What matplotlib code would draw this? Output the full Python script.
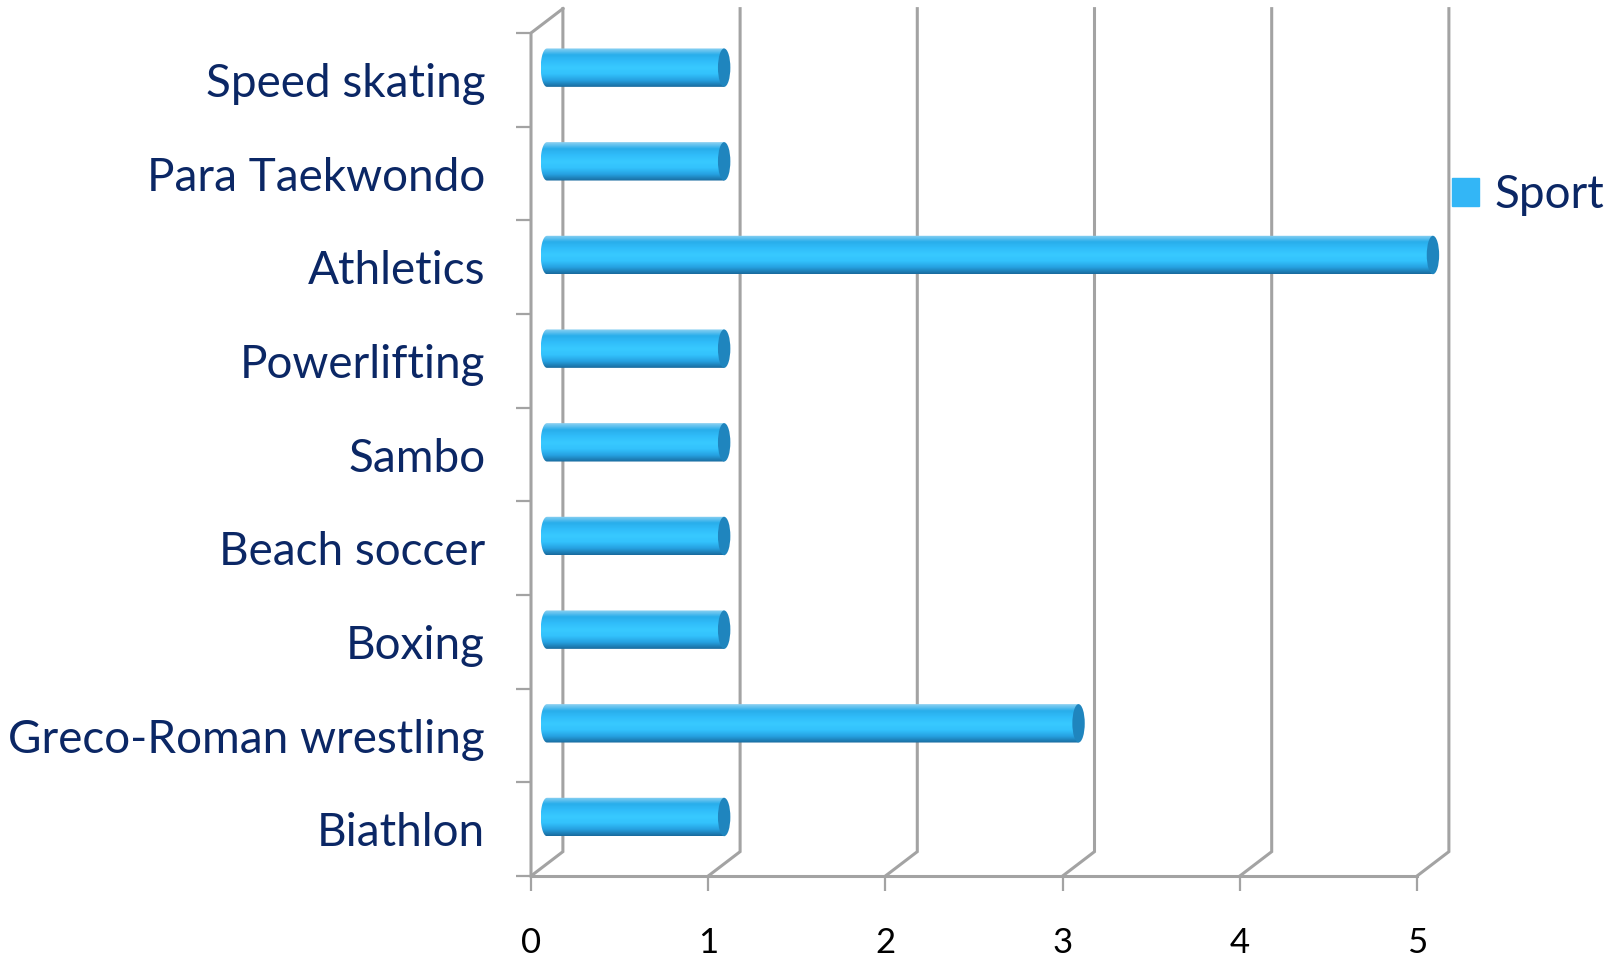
import numpy as np
import matplotlib
matplotlib.use("Agg")
import matplotlib.pyplot as plt
import matplotlib.patches as mpatches
from matplotlib.path import Path

sports = ['Biathlon', 'Greco-Roman wrestling', 'Boxing', 'Beach soccer', 'Sambo',
          'Powerlifting', 'Athletics', 'Para Taekwondo', 'Speed skating']
counts = [1, 3, 1, 1, 1, 1, 5, 1, 1]
x_ticks = [0, 1, 2, 3, 4, 5]
series_name = 'Sport'

plt.rcParams['font.family'] = ['Lato', 'DejaVu Sans']

label_color = '#0b2765'
grid_color = '#a3a3a3'
cap_color = '#1f85be'
legend_color = '#33b6f6'

# fake 3D depth offset, in data units
ddx = 0.18
ddy = 0.26

fig = plt.figure(figsize=(16.16, 9.63), dpi=100)
ax = fig.add_axes([531 / 1616, 87 / 963, 886 / 1616, 843 / 963])
n = len(sports)
ax.set_xlim(0, 5)
ax.set_ylim(0, n)
for s in ax.spines.values():
    s.set_visible(False)

# walls / gridlines
lw = 2.2
for v in x_ticks:
    ax.plot([v, v + ddx, v + ddx], [0, ddy, n + ddy], color=grid_color, lw=lw,
            clip_on=False, solid_joinstyle='miter', zorder=1)
ax.plot([0, 0, ddx], [0, n, n + ddy], color=grid_color, lw=lw, clip_on=False, zorder=1)
ax.plot([0, 5], [0, 0], color=grid_color, lw=lw, clip_on=False, zorder=1)

# ticks
ax.set_xticks(x_ticks)
ax.set_xticklabels([str(t) for t in x_ticks])
ax.tick_params(axis='x', length=11, width=1.6, color=grid_color, pad=26,
               labelsize=25, labelcolor='black')
ax.set_yticks(np.arange(n) + 0.5)
ax.set_yticklabels(sports)
ax.set_yticks(np.arange(n + 1), minor=True)
ax.tick_params(axis='y', which='major', length=0, pad=33, labelsize=33,
               labelcolor=label_color)
ax.tick_params(axis='y', which='minor', length=11, width=1.6, color=grid_color)

# cylinder bars
grad = np.array([
    [0.55, 0.82, 0.95],
    [0.16, 0.68, 0.92],
    [0.19, 0.74, 0.98],
    [0.22, 0.79, 1.00],
    [0.20, 0.76, 0.99],
    [0.15, 0.63, 0.88],
    [0.10, 0.42, 0.62],
])
ts = np.linspace(0, 1, len(grad))
tt = np.linspace(0, 1, 64)
img = np.stack([np.interp(tt, ts, grad[:, c]) for c in range(3)], axis=1)[:, None, :]

bh = 0.41
rx = 0.035
for i, v in enumerate(counts):
    yc = i + 0.5 + ddy / 2
    x0 = ddx / 2
    x1 = v + ddx / 2
    yb, yt = yc - bh / 2, yc + bh / 2
    th = np.linspace(np.pi / 2, 3 * np.pi / 2, 30)
    verts = list(zip(x0 + rx * np.cos(th), yc + bh / 2 * np.sin(th)))
    verts += [(x1, yb), (x1, yt), (x0, yt)]
    codes = [Path.MOVETO] + [Path.LINETO] * (len(verts) - 2) + [Path.CLOSEPOLY]
    clip = mpatches.PathPatch(Path(verts, codes), transform=ax.transData,
                              facecolor='none', edgecolor='none')
    ax.add_patch(clip)
    im = ax.imshow(img, extent=[x0 - rx, x1, yb, yt], aspect='auto',
                   interpolation='bilinear', zorder=3)
    im.set_clip_box(fig.bbox)
    im.set_clip_path(clip)
    ax.add_patch(mpatches.Ellipse((x1, yc), 2 * rx, bh, facecolor=cap_color,
                                  edgecolor='none', zorder=4, clip_on=False))
ax.set_xlim(0, 5)
ax.set_ylim(0, n)

# legend
handle = mpatches.Patch(color=legend_color, label=series_name)
fig.legend(handles=[handle], loc='center left', bbox_to_anchor=(1452 / 1616, 1 - 195 / 963),
           frameon=False, borderpad=0, borderaxespad=0, handlelength=0.58,
           handleheight=0.58, handletextpad=0.35, prop={'size': 33},
           labelcolor=label_color)

fig.savefig('out.png', dpi=100)
